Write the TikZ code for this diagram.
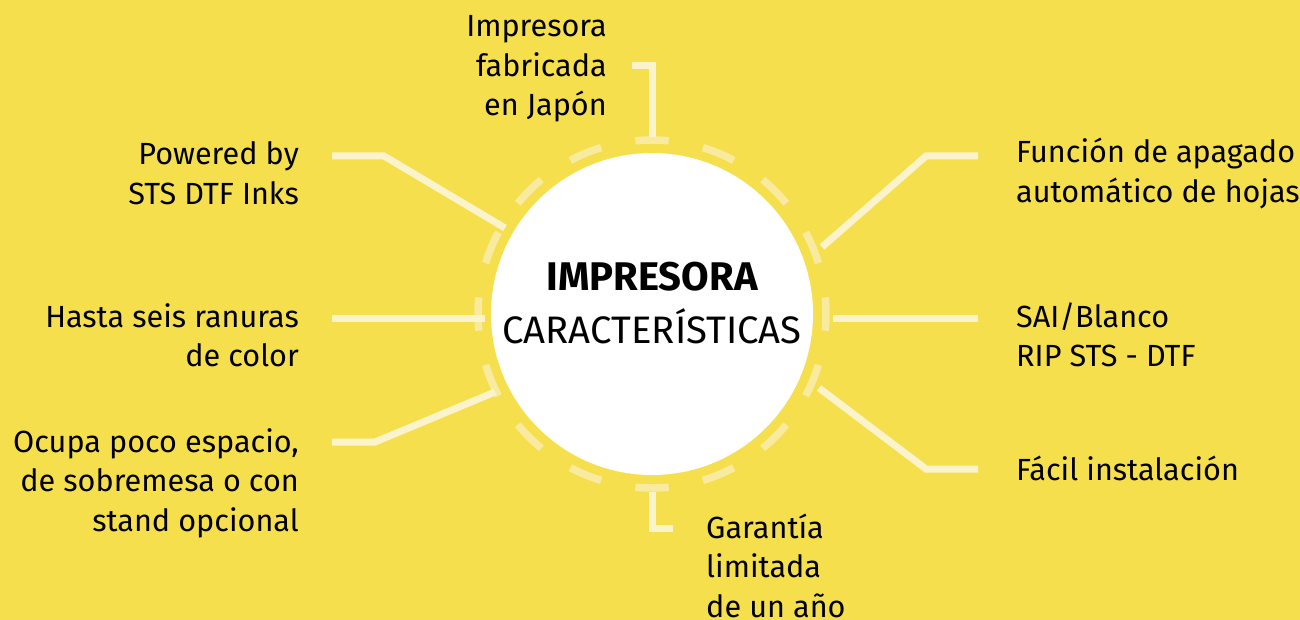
\documentclass[tikz,border=0pt]{standalone}
\usepackage{fontspec}
\setmainfont{Fira Sans}
\usetikzlibrary{calc}
\definecolor{bgyellow}{HTML}{F5DF4D}
\definecolor{linelight}{HTML}{FBF3CB}
\definecolor{dashlight}{HTML}{F8EBA0}
\begin{document}
\begin{tikzpicture}[x=1pt,y=-1pt,
  conn/.style={draw=linelight,line width=7pt,line cap=butt,line join=miter},
  ringdash/.style={draw=dashlight,line width=7.5pt,line cap=butt},
  lbl/.style={inner sep=0pt,font=\fontsize{30.6}{39.5}\selectfont,text=black},
]
\fill[bgyellow] (0,0) rectangle (1300,620);
\useasboundingbox (0,0) rectangle (1300,620);

% centre circle
\node[circle,fill=white,minimum size=322pt,inner sep=0pt] (hub) at (652,314) {};
% dashed ring
\foreach \a in {0,22.5,...,337.5}{
  \draw[ringdash] ($(hub.center)+({\a-5.5}:174)$) arc[start angle={\a-5.5},end angle={\a+5.5},radius=174];
}
\node[anchor=base,inner sep=0pt,font=\fontsize{40}{40}\selectfont\bfseries] (title) at (652,290) {IMPRESORA};
\node[anchor=base,inner sep=0pt,font=\fontsize{38.3}{38.3}\selectfont] (subtitle) at (652,343) {CARACTERÍSTICAS};

% labels
\node[lbl,anchor=base east] (japon) at (607,37) {\begin{tabular}[t]{@{}r@{}}Impresora\\fabricada\\en Japón\end{tabular}};
\node[lbl,anchor=base east] (powered) at (299,165) {\begin{tabular}[t]{@{}r@{}}Powered by\\STS DTF Inks\end{tabular}};
\node[lbl,anchor=base east] (ranuras) at (299,327) {\begin{tabular}[t]{@{}r@{}}Hasta seis ranuras\\de color\end{tabular}};
\node[lbl,anchor=base east] (espacio) at (299,452) {\begin{tabular}[t]{@{}r@{}}Ocupa poco espacio,\\de sobremesa o con\\stand opcional\end{tabular}};
\node[lbl,anchor=base west] (apagado) at (1016,163) {\begin{tabular}[t]{@{}l@{}}Función de apagado\\automático de hojas\end{tabular}};
\node[lbl,anchor=base west] (sai) at (1016,327) {\begin{tabular}[t]{@{}l@{}}SAI/Blanco\\RIP STS - DTF\end{tabular}};
\node[lbl,anchor=base west] (facil) at (1016,480) {Fácil instalación};
\node[lbl,anchor=base west] (garantia) at (706,538) {\begin{tabular}[t]{@{}l@{}}Garantía\\limitada\\de un año\end{tabular}};

% connector points
\coordinate (t1) at (632,66); \coordinate (t2) at (652,66); \coordinate (t3) at (652,137);
\coordinate (pl1) at (332,156); \coordinate (pl2) at (384,156); \coordinate (pl3) at (505,228);
\coordinate (ml1) at (332,318); \coordinate (ml2) at (485,318);
\coordinate (ll1) at (332,442); \coordinate (ll2) at (375,442); \coordinate (ll3) at (495,392);
\coordinate (pr1) at (978,156); \coordinate (pr2) at (926,156); \coordinate (pr3) at (822,247);
\coordinate (mr1) at (978,318); \coordinate (mr2) at (833,318);
\coordinate (lr1) at (978,469); \coordinate (lr2) at (926,469); \coordinate (lr3) at (819,388);
\coordinate (b1) at (652,492); \coordinate (b2) at (652,528); \coordinate (b3) at (673,528);

\draw[conn] (t1) -- (t2) -- (t3);
\draw[conn] (pl1) -- (pl2) -- (pl3);
\draw[conn] (ml1) -- (ml2);
\draw[conn] (ll1) -- (ll2) -- (ll3);
\draw[conn] (pr1) -- (pr2) -- (pr3);
\draw[conn] (mr1) -- (mr2);
\draw[conn] (lr1) -- (lr2) -- (lr3);
\draw[conn] (b1) -- (b2) -- (b3);
\end{tikzpicture}
\end{document}
